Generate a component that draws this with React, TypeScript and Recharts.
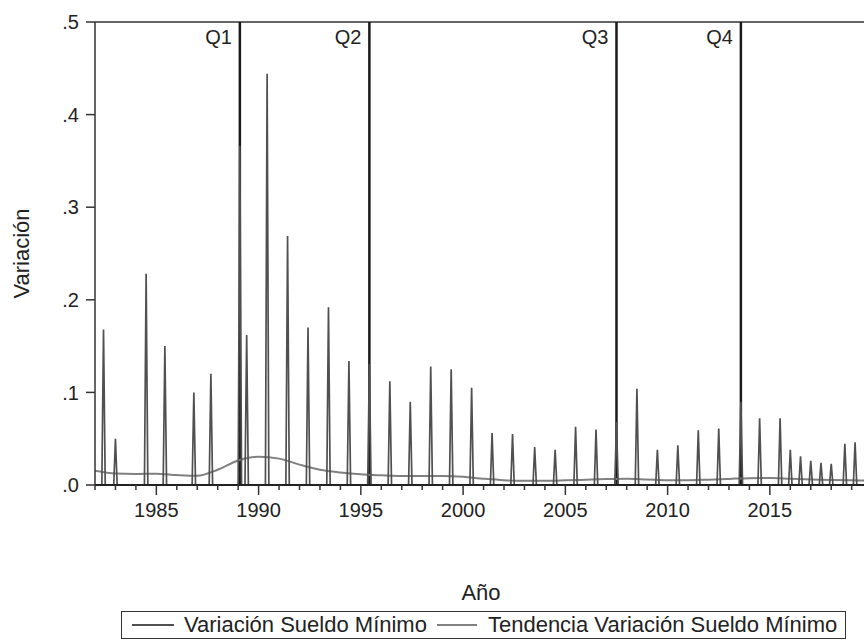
import React from 'react';
import { LineChart, Line, XAxis, YAxis, ReferenceLine } from 'recharts';

// months where the minimum wage changed, and the monthly variation on those months
const spikeMonths = [
  '1982-06', '1983-01', '1984-07', '1985-06', '1986-11', '1987-09', '1989-02', '1989-06',
  '1990-06', '1991-06', '1992-06', '1993-06', '1994-06', '1995-06', '1996-06', '1997-06',
  '1998-06', '1999-06', '2000-06', '2001-06', '2002-06', '2003-07', '2004-07', '2005-07',
  '2006-07', '2007-07', '2008-07', '2009-07', '2010-07', '2011-07', '2012-07', '2013-08',
  '2014-07', '2015-07', '2016-01', '2016-07', '2017-01', '2017-07', '2018-01', '2018-09',
  '2019-03',
];
const spikeValues = [
  0.168, 0.05, 0.228, 0.15, 0.1, 0.12, 0.366, 0.162,
  0.444, 0.269, 0.17, 0.192, 0.134, 0.131, 0.112, 0.09,
  0.128, 0.125, 0.105, 0.056, 0.055, 0.041, 0.038, 0.063,
  0.06, 0.068, 0.104, 0.038, 0.043, 0.059, 0.061, 0.09,
  0.072, 0.072, 0.038, 0.031, 0.026, 0.024, 0.023, 0.0445,
  0.046,
];

// smoothed trend, read once a year
const trendYears = [
  1982, 1983, 1984, 1985, 1986, 1987, 1988, 1989, 1990, 1991, 1992, 1993, 1994,
  1995, 1996, 1997, 1998, 1999, 2000, 2001, 2002, 2003, 2004, 2005, 2006, 2007,
  2008, 2009, 2010, 2011, 2012, 2013, 2014, 2015, 2016, 2017, 2018, 2019, 2019.75,
];
const trendValues = [
  0.0155, 0.0125, 0.012, 0.0122, 0.0108, 0.01, 0.0165, 0.0265, 0.0305, 0.0285, 0.022, 0.0165, 0.0135,
  0.0115, 0.0105, 0.0098, 0.0098, 0.0097, 0.0088, 0.0068, 0.0052, 0.0045, 0.0045, 0.005, 0.0057, 0.0064,
  0.0068, 0.006, 0.0052, 0.0052, 0.0058, 0.0066, 0.0074, 0.0075, 0.0068, 0.006, 0.0055, 0.005, 0.0048,
];

const quarterLabels = ['Q1', 'Q2', 'Q3', 'Q4'];
const quarterMonths = ['1989-02', '1995-06', '2007-07', '2013-08'];

const yearTicks = Array.from({ length: 38 }, (_, i) => 1982 + i);
const yTicks = [0, 0.1, 0.2, 0.3, 0.4, 0.5];

const seriesNames = ['Variación Sueldo Mínimo', 'Tendencia Variación Sueldo Mínimo'];
const seriesColors = ['#505050', '#808080'];

const FONT = '"Liberation Sans", Arial, sans-serif';

const monthToT = (key: string) => {
  const [y, m] = key.split('-').map(Number);
  return y + (m - 1) / 12;
};

const spikeLookup = new Map(spikeMonths.map((k, i) => [k, spikeValues[i]]));
const mainData: { t: number; v: number }[] = [];
for (let y = 1982; y <= 2019; y++) {
  for (let m = 1; m <= 12; m++) {
    if (y === 2019 && m > 9) break;
    const key = `${y}-${String(m).padStart(2, '0')}`;
    mainData.push({ t: y + (m - 1) / 12, v: spikeLookup.get(key) ?? 0 });
  }
}
const trendData = trendYears.map((t, i) => ({ t, v: trendValues[i] }));

const YearTick = (props: any) => {
  const { x, y, payload } = props;
  const major = payload.value % 5 === 0;
  return (
    <g>
      <line x1={x} x2={x} y1={y} y2={y + (major ? 10 : 5)} stroke="#333" strokeWidth={1.5} />
      {major && (
        <text x={x} y={y + 32} textAnchor="middle" fontSize={20} fill="#222" fontFamily={FONT}>
          {payload.value}
        </text>
      )}
    </g>
  );
};

const App: React.FC = () => {
  return (
    <div
      style={{
        position: 'absolute',
        left: 0,
        top: 0,
        width: 864,
        height: 640,
        overflow: 'hidden',
        background: '#fff',
        fontFamily: FONT,
      }}
    >
      <LineChart width={877} height={640} margin={{ top: 22, right: 10, left: 0, bottom: 0 }} style={{ fontFamily: FONT }}>
        <XAxis
          type="number"
          dataKey="t"
          domain={[1982, 2019.75]}
          allowDataOverflow
          ticks={yearTicks}
          interval={0}
          tick={<YearTick />}
          tickLine={false}
          tickSize={0}
          tickMargin={0}
          height={155}
          axisLine={{ stroke: '#222', strokeWidth: 2 }}
          label={{ value: 'Año', position: 'insideBottom', offset: 40, fontSize: 22, fill: '#222' }}
        />
        <YAxis
          type="number"
          domain={[0, 0.5]}
          ticks={yTicks}
          width={95}
          tickSize={9}
          tickMargin={7}
          tickFormatter={(v: number) => v.toFixed(1).replace(/^0/, '')}
          tick={{ fontSize: 20, fill: '#222' }}
          tickLine={{ stroke: '#333', strokeWidth: 1.5 }}
          axisLine={{ stroke: '#333', strokeWidth: 1.5 }}
          label={{
            value: 'Variación',
            angle: -90,
            position: 'insideLeft',
            offset: 21,
            fontSize: 22,
            fill: '#222',
            style: { textAnchor: 'middle' },
          }}
        />
        <ReferenceLine y={0.5} stroke="#333" strokeWidth={1.5} />
        {quarterMonths.map((q, i) => (
          <ReferenceLine
            key={q}
            x={monthToT(q)}
            stroke="#1a1a1a"
            strokeWidth={2.5}
            label={{ value: quarterLabels[i], position: 'insideTopRight', offset: 8, fontSize: 20, fill: '#222' }}
          />
        ))}
        <Line
          data={trendData}
          dataKey="v"
          name={seriesNames[1]}
          type="monotone"
          stroke={seriesColors[1]}
          strokeWidth={2}
          dot={false}
          isAnimationActive={false}
        />
        <Line
          data={mainData}
          dataKey="v"
          name={seriesNames[0]}
          type="linear"
          stroke={seriesColors[0]}
          strokeWidth={1.7}
          dot={false}
          isAnimationActive={false}
        />
      </LineChart>
      <div
        style={{
          position: 'absolute',
          left: 121,
          top: 611,
          height: 28,
          boxSizing: 'border-box',
          border: '1.5px solid #333',
          display: 'flex',
          alignItems: 'center',
          padding: '0 8px 1px 10px',
          fontSize: 22,
          lineHeight: 1,
          color: '#222',
          whiteSpace: 'nowrap',
        }}
      >
        {seriesNames.map((name, i) => (
          <React.Fragment key={name}>
            <span
              style={{
                display: 'inline-block',
                width: i === 0 ? 42 : 40,
                height: 0,
                borderTop: `2px solid ${seriesColors[i]}`,
                marginRight: i === 0 ? 10 : 11,
              }}
            />
            <span style={{ marginRight: i === 0 ? 10 : 0 }}>{name}</span>
          </React.Fragment>
        ))}
      </div>
    </div>
  );
};

export default App;
